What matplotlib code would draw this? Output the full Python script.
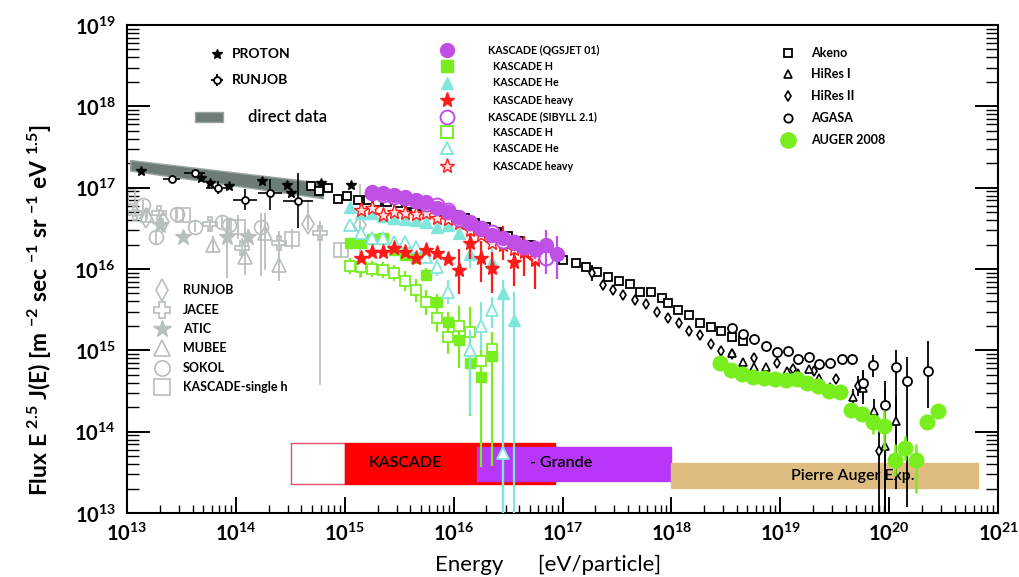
import numpy as np
import matplotlib
matplotlib.use("Agg")
import matplotlib.pyplot as plt
from matplotlib import ticker
from matplotlib.patches import Rectangle

plt.rcParams['font.family'] = ['Lato', 'DejaVu Sans']
plt.rcParams['mathtext.fontset'] = 'custom'
plt.rcParams['mathtext.rm'] = 'Lato'
plt.rcParams['mathtext.it'] = 'Lato:italic'
plt.rcParams['mathtext.bf'] = 'Lato:bold'

# ------------------------------------------------------------------
# DATA  (log10 of energy [eV] and log10 of flux E^2.5 J(E))
# ------------------------------------------------------------------
band_lgE = [13.03, 14.80]
band_lo = [17.21, 16.87]
band_hi = [17.34, 17.06]

proton_lgE = [13.13, 13.68, 13.76, 13.94, 14.24, 14.47, 14.51, 14.78, 15.06, 15.58]
proton_lgF = [17.21, 17.12, 17.06, 17.02, 17.08, 17.03, 16.93, 17.06, 17.03, 16.76]

runjob_lgE = [13.41, 13.62, 13.84, 14.08, 14.31, 14.57]
runjob_lgF = [17.11, 17.18, 17.00, 16.85, 16.93, 16.84]
runjob_up = [0.05, 0.05, 0.08, 0.13, 0.18, 0.34]
runjob_dn = [0.05, 0.05, 0.08, 0.13, 0.20, 0.33]
runjob_dx = [0.08, 0.10, 0.11, 0.11, 0.11, 0.14]

# direct measurements (grey)
g_runjob_lgE = [13.17, 13.33, 14.66, 15.14]
g_runjob_lgF = [16.63, 16.58, 16.55, 16.54]
g_runjob_up = [0.05, 0.05, 0.28, 0.50]
g_runjob_dn = [0.05, 0.05, 0.07, 0.65]

jacee_lgE = [13.07, 13.29, 13.76, 14.06, 14.40, 14.77]
jacee_lgF = [16.69, 16.69, 16.55, 16.26, 16.32, 16.44]
jacee_up = [0.05, 0.05, 0.07, 0.12, 0.15, 0.15]
jacee_dn = [0.05, 0.05, 0.07, 0.12, 0.15, 1.87]

atic_lgE = [13.30, 13.51, 13.92, 14.11]
atic_lgF = [16.54, 16.39, 16.39, 16.39]
atic_up = [0.05, 0.06, 0.23, 0.10]
atic_dn = [0.05, 0.06, 0.50, 0.10]

mubee_lgE = [13.18, 13.79, 14.08, 14.27, 14.40]
mubee_lgF = [16.66, 16.30, 16.15, 16.44, 16.05]
mubee_up = [0.05, 0.10, 0.33, 0.25, 0.15]
mubee_dn = [0.05, 0.10, 0.22, 0.45, 0.20]

sokol_lgE = [13.15, 13.27, 13.46, 13.62, 13.87, 13.94, 14.23]
sokol_lgF = [16.79, 16.39, 16.68, 16.52, 16.58, 16.54, 16.52]
sokol_up = [0.06, 0.08, 0.06, 0.07, 0.07, 0.07, 0.17]
sokol_dn = [0.06, 0.08, 0.06, 0.07, 0.07, 0.07, 0.60]

ksh_lgE = [13.01, 13.51, 14.02, 14.52, 14.97]
ksh_lgF = [16.89, 16.66, 16.52, 16.37, 16.23]
ksh_up = [0.05, 0.08, 0.15, 0.12, 0.10]
ksh_dn = [0.05, 0.08, 0.15, 0.12, 0.10]

# KASCADE QGSJET 01
qall_lgE = [15.25, 15.35, 15.45, 15.55, 15.65, 15.75, 15.85, 15.95, 16.05,
            16.15, 16.25, 16.35, 16.45, 16.55, 16.65, 16.75, 16.85, 16.95]
qall_lgF = [16.95, 16.93, 16.91, 16.89, 16.85, 16.82, 16.75, 16.70, 16.64,
            16.58, 16.49, 16.42, 16.38, 16.32, 16.27, 16.26, 16.30, 16.18]
qall_up = [0, 0, 0, 0, 0, 0, 0, 0, 0, 0, 0, 0, 0.05, 0.05, 0.08, 0.10, 0.18, 0.22]
qall_dn = [0, 0, 0, 0, 0, 0, 0, 0, 0, 0, 0, 0, 0.05, 0.05, 0.08, 0.12, 0.25, 0.30]

qH_lgE = [15.05, 15.15, 15.25, 15.35, 15.45, 15.55, 15.65, 15.75, 15.85,
          15.95, 16.05, 16.15, 16.25, 16.35]
qH_lgF = [16.32, 16.32, 16.37, 16.38, 16.23, 16.17, 16.14, 15.93, 15.59,
          15.35, 15.13, 14.84, 14.67, 14.93]
qH_up = [0, 0, 0, 0, 0, 0, 0.05, 0.08, 0.10, 0.12, 0.20, 0.28, 0.33, 0.30]
qH_dn = [0, 0, 0, 0, 0, 0, 0.05, 0.08, 0.10, 0.12, 0.35, 0.65, 1.10, 1.35]

qHe_lgE = [15.05, 15.15, 15.25, 15.35, 15.45, 15.55, 15.65, 15.75, 15.85,
           15.95, 16.05, 16.15, 16.35, 16.45, 16.55]
qHe_lgF = [16.76, 16.69, 16.69, 16.65, 16.63, 16.61, 16.60, 16.58, 16.52,
           16.54, 16.44, 16.18, 16.09, 15.71, 15.37]
qHe_up = [0, 0, 0, 0, 0, 0, 0, 0, 0, 0, 0.05, 0.17, 0.20, 0.15, 0.35]
qHe_dn = [0, 0, 0, 0, 0, 0, 0, 0, 0, 0, 0.05, 0.17, 0.20, 3.00, 3.00]

qHv_lgE = [15.15, 15.25, 15.35, 15.45, 15.55, 15.65, 15.75, 15.85, 15.95,
           16.05, 16.15, 16.25, 16.35, 16.45, 16.55, 16.65, 16.75]
qHv_lgF = [16.14, 16.21, 16.21, 16.26, 16.21, 16.14, 16.23, 16.20, 16.12,
           15.99, 16.32, 16.14, 16.01, 16.33, 16.09, 16.21, 16.11]
qHv_up = [0, 0, 0, 0, 0, 0, 0, 0, 0.05, 0.25, 0.15, 0.20, 0.20, 0.20, 0.22, 0.20, 0.22]
qHv_dn = [0, 0, 0, 0, 0, 0, 0, 0, 0.05, 0.30, 0.20, 0.30, 0.30, 0.22, 0.30, 0.30, 0.35]

# KASCADE SIBYLL 2.1
sall_lgE = [15.25, 15.35, 15.45, 15.55, 15.65, 15.75, 15.85, 15.95, 16.05,
            16.15, 16.25, 16.35, 16.45, 16.55, 16.65, 16.75, 16.85]
sall_lgF = [16.93, 16.91, 16.89, 16.87, 16.83, 16.80, 16.79, 16.73, 16.62,
            16.56, 16.50, 16.46, 16.34, 16.33, 16.27, 16.24, 16.14]
sall_up = [0, 0, 0, 0, 0, 0, 0, 0, 0, 0, 0, 0, 0.05, 0.06, 0.08, 0.10, 0.15]
sall_dn = [0, 0, 0, 0, 0, 0, 0, 0, 0, 0, 0, 0, 0.05, 0.06, 0.08, 0.12, 0.20]

sH_lgE = [15.05, 15.15, 15.25, 15.35, 15.45, 15.55, 15.65, 15.75, 15.85,
          15.95, 16.05, 16.15, 16.25, 16.35]
sH_lgF = [16.04, 16.02, 16.00, 15.99, 15.95, 15.85, 15.74, 15.59, 15.40,
          15.16, 15.30, 15.23, 14.87, 15.02]
sH_up = [0.10, 0.12, 0.10, 0.10, 0.10, 0.12, 0.14, 0.15, 0.18, 0.20, 0.25, 0.30, 0.20, 0.20]
sH_dn = [0.10, 0.12, 0.10, 0.10, 0.10, 0.12, 0.14, 0.15, 0.18, 0.20, 0.25, 0.30, 0.20, 0.20]

sHe_lgE = [15.05, 15.15, 15.25, 15.35, 15.45, 15.55, 15.65, 15.75, 15.85,
           15.95, 16.15, 16.25, 16.35, 16.45]
sHe_lgF = [16.54, 16.44, 16.38, 16.38, 16.33, 16.33, 16.27, 16.15, 16.02,
           15.72, 15.00, 15.30, 15.50, 13.74]
sHe_up = [0.05, 0.05, 0, 0, 0, 0, 0.05, 0.08, 0.10, 0.15, 0.25, 0.30, 0.16, 0.90]
sHe_dn = [0.05, 0.05, 0, 0, 0, 0, 0.05, 0.08, 0.10, 0.15, 0.80, 0.30, 0.22, 1.50]

sHv_lgE = [15.15, 15.25, 15.35, 15.45, 15.55, 15.65, 15.75, 15.85, 15.95,
           16.05, 16.15, 16.25, 16.35, 16.45, 16.55, 16.65, 16.75]
sHv_lgF = [16.73, 16.75, 16.66, 16.70, 16.69, 16.68, 16.69, 16.63, 16.61,
           16.57, 16.48, 16.42, 16.32, 16.30, 16.24, 16.22, 16.14]

# air shower experiments
akeno_lgE = [14.69, 14.76, 14.85, 14.94, 15.02, 15.12, 15.21, 15.30, 15.39, 15.49,
             15.60, 15.70, 15.80, 15.90, 16.00, 16.10, 16.20, 16.30, 16.40, 16.50,
             16.60, 16.70, 16.80, 16.90, 17.00, 17.12, 17.22, 17.32, 17.42, 17.52,
             17.62, 17.71, 17.81, 17.91, 17.97, 18.06, 18.16, 18.26, 18.36, 18.46,
             18.56, 18.66]
akeno_lgF = [17.02, 16.96, 17.00, 16.86, 16.90, 16.85, 16.85, 16.82, 16.82, 16.81,
             16.80, 16.78, 16.75, 16.71, 16.67, 16.63, 16.57, 16.52, 16.46, 16.40,
             16.34, 16.29, 16.24, 16.18, 16.11, 16.07, 16.02, 15.96, 15.90, 15.85,
             15.82, 15.72, 15.72, 15.64, 15.58, 15.50, 15.44, 15.33, 15.29, 15.24,
             15.16, 15.11]

hires1_lgE = [18.56, 18.66, 18.76, 18.87, 19.06, 19.16, 19.26, 19.36, 19.46,
              19.67, 19.76, 19.86, 19.96, 20.06]
hires1_lgF = [14.97, 14.86, 14.80, 14.80, 14.75, 14.72, 14.77, 14.66, 14.55,
              14.43, 14.54, 14.25, 13.82, 14.13]
hires1_up = [0, 0, 0, 0, 0, 0, 0, 0.03, 0.04, 0.10, 0.20, 0.15, 0.80, 0.30]
hires1_dn = [0, 0, 0, 0, 0, 0, 0, 0.03, 0.04, 0.10, 0.20, 0.15, 1.20, 0.32]

hires2_lgE = [17.27, 17.37, 17.46, 17.56, 17.67, 17.77, 17.87, 17.97, 18.07, 18.16,
              18.26, 18.36, 18.46, 18.56, 18.76, 18.97, 19.12, 19.31, 19.51, 19.71, 19.91]
hires2_lgF = [15.95, 15.80, 15.74, 15.68, 15.62, 15.57, 15.47, 15.40, 15.34, 15.24,
              15.19, 15.08, 14.99, 14.95, 14.91, 14.84, 14.77, 14.75, 14.65, 14.56, 13.76]
hires2_up = [0.10, 0, 0, 0, 0, 0, 0, 0, 0, 0, 0, 0, 0, 0, 0, 0, 0, 0, 0.05, 0.12, 0.35]
hires2_dn = [0.10, 0, 0, 0, 0, 0, 0, 0, 0, 0, 0, 0, 0, 0, 0, 0, 0, 0, 0.05, 0.12, 1.00]

agasa_lgE = [18.56, 18.66, 18.76, 18.87, 18.97, 19.07, 19.16, 19.26, 19.36, 19.46,
             19.57, 19.66, 19.76, 19.85, 19.96, 20.06, 20.16, 20.36]
agasa_lgF = [15.27, 15.20, 15.14, 15.05, 14.98, 14.99, 14.89, 14.92, 14.83, 14.84,
             14.89, 14.89, 14.60, 14.82, 14.33, 14.80, 14.62, 14.75]
agasa_up = [0, 0, 0, 0, 0, 0, 0, 0.03, 0.03, 0.04, 0.05, 0.07, 0.16, 0.12, 0.20, 0.20, 0.30, 0.36]
agasa_dn = [0, 0, 0, 0, 0, 0, 0, 0.03, 0.03, 0.04, 0.05, 0.07, 0.20, 0.15, 1.40, 1.50, 1.55, 0.46]

auger_lgE = [18.45, 18.55, 18.65, 18.75, 18.85, 18.95, 19.05, 19.15, 19.25, 19.35,
             19.45, 19.55, 19.65, 19.75, 19.85, 19.95, 20.05, 20.15, 20.25, 20.35, 20.45]
auger_lgF = [14.84, 14.76, 14.71, 14.67, 14.66, 14.65, 14.64, 14.65, 14.60, 14.56,
             14.50, 14.49, 14.27, 14.22, 14.12, 14.07, 13.65, 13.80, 13.65, 14.12, 14.25]
auger_up = [0, 0, 0, 0, 0, 0, 0, 0, 0, 0, 0, 0, 0.05, 0.08, 0.05, 0.20, 0.20, 0.15, 0.20, 0, 0]
auger_dn = [0, 0, 0, 0, 0, 0, 0, 0, 0, 0, 0, 0, 0.05, 0.08, 0.15, 0.30, 0.20, 0.15, 0.40, 0, 0]

# experiment energy ranges (bars at the bottom)
range_names = ['', 'KASCADE', '- Grande', 'Pierre Auger Exp.']
range_E0 = [3.2e14, 1.0e15, 1.65e16, 1.0e18]
range_E1 = [1.0e15, 8.5e16, 1.0e18, 6.6e20]
range_F0 = [2.27e13, 2.27e13, 2.48e13, 2.03e13]
range_F1 = [7.26e13, 7.26e13, 6.5e13, 4.1e13]

# axis decades
x_decades = [13, 14, 15, 16, 17, 18, 19, 20, 21]
y_decades = [13, 14, 15, 16, 17, 18, 19]

# ------------------------------------------------------------------
VIO = '#c04fe6'
GRN = '#78ee1e'
CYN = '#80e6dc'
RED = '#ff1a1a'
GRY = '#b7bfbe'
BAND = '#6d7b79'
TAN = '#dfbd80'
GRANDE = '#b836f8'
range_fc = ['white', '#ff0000', GRANDE, TAN]
range_ec = ['#e0506a', '#ff0000', GRANDE, TAN]

W, H = 1019, 577
fig = plt.figure(figsize=(W / 100, H / 100), dpi=100)
L, R, T, B = 127, 998, 25, 513
ax = fig.add_axes([L / W, 1 - B / H, (R - L) / W, (B - T) / H])
ax.set_xscale('log')
ax.set_yscale('log')
ax.set_xlim(10.0 ** x_decades[0], 10.0 ** x_decades[-1])
ax.set_ylim(10.0 ** y_decades[0], 10.0 ** y_decades[-1])


def P(px, py):
    return ((px - L) / (R - L), (B - py) / (B - T))


def series(lgE, lgF, up=None, dn=None, dx=None, color='k', marker='o', ms=6,
           mfc=None, mew=1.0, elw=1.3, z=3):
    E = 10.0 ** np.asarray(lgE, float)
    F = 10.0 ** np.asarray(lgF, float)
    yerr = None
    if up is not None:
        u = np.asarray(up, float)
        d = np.asarray(dn, float)
        yerr = [F * (1 - 10 ** (-d)), F * (10 ** u - 1)]
    xerr = None
    if dx is not None:
        x = np.asarray(dx, float)
        xerr = [E * (1 - 10 ** (-x)), E * (10 ** x - 1)]
    ax.errorbar(E, F, yerr=yerr, xerr=xerr, fmt=marker, ms=ms,
                mfc=color if mfc is None else mfc, mec=color, mew=mew,
                ecolor=color, elinewidth=elw, capsize=0, zorder=z)


# range bars
for name, e0, e1, f0, f1, fc, ec in zip(range_names, range_E0, range_E1, range_F0,
                                         range_F1, range_fc, range_ec):
    ax.add_patch(Rectangle((e0, f0), e1 - e0, f1 - f0, facecolor=fc, edgecolor=ec,
                           lw=1.0, zorder=1))
ax.text(*P(405, 463), range_names[1], transform=ax.transAxes, ha='center', va='center',
        fontsize=11.5, fontweight='semibold', zorder=1.5)
ax.text(*P(561, 463), range_names[2], transform=ax.transAxes, ha='center', va='center',
        fontsize=11.5, fontweight='semibold', zorder=1.5)
ax.text(*P(853, 476), range_names[3], transform=ax.transAxes, ha='center', va='center',
        fontsize=11.5, fontweight='semibold', zorder=1.5)

# direct-data band
bE = 10.0 ** np.asarray(band_lgE)
ax.fill_between(bE, 10.0 ** np.asarray(band_lo), 10.0 ** np.asarray(band_hi),
                color=BAND, ec='#9aa5a3', lw=1, zorder=2.5)

# grey direct measurements
series(g_runjob_lgE, g_runjob_lgF, g_runjob_up, g_runjob_dn, color=GRY, marker='d',
       ms=10, mfc='none', mew=1.2, z=2)
series(jacee_lgE, jacee_lgF, jacee_up, jacee_dn, color=GRY, marker='P', ms=10,
       mfc='none', mew=1.2, z=2)
series(atic_lgE, atic_lgF, atic_up, atic_dn, color=GRY, marker='*', ms=12, z=2)
series(mubee_lgE, mubee_lgF, mubee_up, mubee_dn, color=GRY, marker='^', ms=10,
       mfc='none', mew=1.2, z=2)
series(sokol_lgE, sokol_lgF, sokol_up, sokol_dn, color=GRY, marker='o', ms=10,
       mfc='none', mew=1.2, z=2)
series(ksh_lgE, ksh_lgF, ksh_up, ksh_dn, color=GRY, marker='s', ms=10,
       mfc='none', mew=1.2, z=2)

# proton / runjob
series(proton_lgE, proton_lgF, color='k', marker='*', ms=7, z=3)
series(runjob_lgE, runjob_lgF, runjob_up, runjob_dn, runjob_dx, color='k', marker='o',
       ms=5, mfc='white', mew=1.3, elw=1.2, z=3)

# air shower arrays (black)
series(akeno_lgE, akeno_lgF, color='k', marker='s', ms=5.5, mfc='white', mew=1.3, z=3)
series(hires2_lgE, hires2_lgF, hires2_up, hires2_dn, color='k', marker='d', ms=5,
       mfc='white', mew=1.2, z=3)
series(hires1_lgE, hires1_lgF, hires1_up, hires1_dn, color='k', marker='^', ms=5.5,
       mfc='white', mew=1.2, z=3)
series(agasa_lgE, agasa_lgF, agasa_up, agasa_dn, color='k', marker='o', ms=6.5,
       mfc='white', mew=1.3, z=3)
series(auger_lgE, auger_lgF, auger_up, auger_dn, color=GRN, marker='o', ms=10.5,
       elw=1.8, z=4)

# KASCADE
series(sH_lgE, sH_lgF, sH_up, sH_dn, color=GRN, marker='s', ms=7.5, mfc='white',
       mew=1.3, elw=1.6, z=4)
series(qH_lgE, qH_lgF, qH_up, qH_dn, color=GRN, marker='s', ms=7.5, elw=1.6, z=4)
series(sHe_lgE, sHe_lgF, sHe_up, sHe_dn, color=CYN, marker='^', ms=8.5, mfc='white',
       mew=1.3, elw=1.6, z=4.1)
series(qHe_lgE, qHe_lgF, qHe_up, qHe_dn, color=CYN, marker='^', ms=8.5, elw=1.6, z=4.1)
series(qHv_lgE, qHv_lgF, qHv_up, qHv_dn, color=RED, marker='*', ms=11, elw=1.6, z=4.2)
series(sHv_lgE, sHv_lgF, color=RED, marker='*', ms=11, mfc='#ffe0e0', mew=1.0, z=4.2)
series(sall_lgE, sall_lgF, sall_up, sall_dn, color=VIO, marker='o', ms=10, mfc='white',
       mew=1.4, elw=1.6, z=4.3)
series(qall_lgE, qall_lgF, qall_up, qall_dn, color=VIO, marker='o', ms=10, elw=1.6, z=4.4)

# ------------------------------------------------------------------
# legends (drawn by hand, axes-fraction positions)
# ------------------------------------------------------------------
def lmark(px, py, **kw):
    ax.plot(*[[v] for v in P(px, py)], transform=ax.transAxes, clip_on=False,
            linestyle='none', zorder=6, **kw)


def ltext(px, py, s, size, weight='bold'):
    ax.text(*P(px, py), s, transform=ax.transAxes, ha='left', va='center',
            fontsize=size, fontweight=weight, zorder=6)


lmark(217, 54, marker='*', ms=7.5, color='k')
ltext(232, 54, 'PROTON', 10)
lmark(217, 80, marker='+', ms=9, color='k', mew=1.3)
lmark(217, 80, marker='o', ms=5, mfc='white', mec='k', mew=1.3)
ltext(232, 80, 'RUNJOB', 10)
x0, y0 = P(195, 122)
x1, y1 = P(223, 112)
ax.add_patch(Rectangle((x0, y0), x1 - x0, y1 - y0, transform=ax.transAxes,
                       facecolor=BAND, edgecolor='#9aa5a3', lw=1, zorder=6))
ltext(248, 117, 'direct data', 12, 'semibold')

g2_y = [50, 66, 83, 100, 117, 132, 148, 166]
g2_lab = ['KASCADE (QGSJET 01)', 'KASCADE H', 'KASCADE He', 'KASCADE heavy',
          'KASCADE (SIBYLL 2.1)', 'KASCADE H', 'KASCADE He', 'KASCADE heavy']
g2_sty = [dict(marker='o', ms=10, color=VIO),
          dict(marker='s', ms=8, color=GRN),
          dict(marker='^', ms=8.5, color=CYN),
          dict(marker='*', ms=11, color=RED),
          dict(marker='o', ms=10, mfc='white', mec=VIO, mew=1.4),
          dict(marker='s', ms=8, mfc='white', mec=GRN, mew=1.4),
          dict(marker='^', ms=8.5, mfc='white', mec=CYN, mew=1.4),
          dict(marker='*', ms=11, mfc='#ffe0e0', mec=RED, mew=1.0)]
for i, (yy, lab, st) in enumerate(zip(g2_y, g2_lab, g2_sty)):
    lmark(447, yy, **st)
    ltext(488 if i in (0, 4) else 493, yy, lab, 7.7)

g3_y = [53, 74, 96, 118, 140]
g3_lab = ['Akeno', 'HiRes I', 'HiRes II', 'AGASA', 'AUGER 2008']
g3_sty = [dict(marker='s', ms=5.5, mfc='white', mec='k', mew=1.3),
          dict(marker='^', ms=5.5, mfc='white', mec='k', mew=1.2),
          dict(marker='d', ms=5, mfc='white', mec='k', mew=1.2),
          dict(marker='o', ms=6, mfc='white', mec='k', mew=1.3),
          dict(marker='o', ms=11, color=GRN)]
for yy, lab, st in zip(g3_y, g3_lab, g3_sty):
    lmark(788, yy, **st)
    ltext(811, yy, lab, 9)

g4_y = [290, 310, 329, 348, 368, 387]
g4_lab = ['RUNJOB', 'JACEE', 'ATIC', 'MUBEE', 'SOKOL', 'KASCADE-single h']
g4_sty = [dict(marker='d', ms=11, mfc='white', mec=GRY, mew=1.2),
          dict(marker='P', ms=11, mfc='white', mec=GRY, mew=1.2),
          dict(marker='*', ms=13, color=GRY),
          dict(marker='^', ms=11, mfc='white', mec=GRY, mew=1.2),
          dict(marker='o', ms=11, mfc='white', mec=GRY, mew=1.2),
          dict(marker='s', ms=11, mfc='white', mec=GRY, mew=1.2)]
for yy, lab, st in zip(g4_y, g4_lab, g4_sty):
    lmark(162, yy, **st)
    ltext(183, yy, lab, 9)

# ------------------------------------------------------------------
# axes styling
# ------------------------------------------------------------------
fmt = ticker.FuncFormatter(lambda v, p: r'$\mathbf{10^{%d}}$' % int(round(np.log10(v))))
ax.xaxis.set_major_locator(ticker.FixedLocator([10.0 ** d for d in x_decades]))
ax.yaxis.set_major_locator(ticker.FixedLocator([10.0 ** d for d in y_decades]))
ax.xaxis.set_minor_locator(ticker.FixedLocator(
    [m * 10.0 ** d for d in x_decades[:-1] for m in range(2, 10)]))
ax.yaxis.set_minor_locator(ticker.FixedLocator(
    [m * 10.0 ** d for d in y_decades[:-1] for m in range(2, 10)]))
for axis in (ax.xaxis, ax.yaxis):
    axis.set_major_formatter(fmt)
    axis.set_minor_formatter(ticker.NullFormatter())

ax.tick_params(axis='x', which='major', direction='in', length=11.5, width=1.4,
               pad=6, labelsize=14.5, top=False)
ax.tick_params(axis='x', which='minor', direction='in', length=5.8, width=1.0, top=False)
ax.tick_params(axis='y', which='major', direction='in', length=16.5, width=1.4,
               pad=8, labelsize=14.5, right=True)
ax.tick_params(axis='y', which='minor', direction='in', length=8.6, width=1.0, right=True)
for s in ax.spines.values():
    s.set_linewidth(1.5)

fig.text(40 / W, 1 - 310 / H,
         r'Flux E $^{\mathbf{2.5}}$ J(E) [m $^{\mathbf{-2}}$ sec $^{\mathbf{-1}}$ sr $^{\mathbf{-1}}$ eV $^{\mathbf{1.5}}$]',
         rotation=90, ha='center', va='center', fontsize=16.5, fontweight='bold')
fig.text(548 / W, 1 - 565 / H, 'Energy      [eV/particle]', ha='center', va='center',
         fontsize=16)

fig.savefig('out.png', dpi=100)
